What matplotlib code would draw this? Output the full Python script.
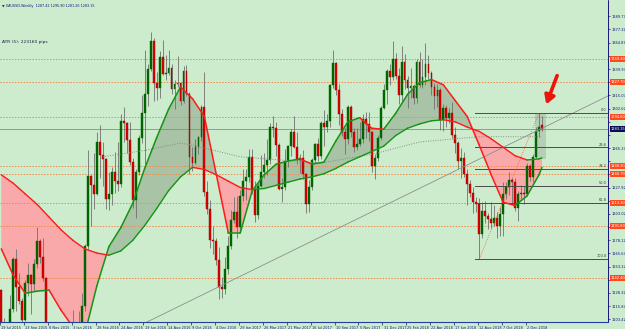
import numpy as np
import matplotlib
matplotlib.use("Agg")
import matplotlib.pyplot as plt
from matplotlib.collections import LineCollection
from matplotlib.patches import Rectangle
import matplotlib.transforms as mtrans

BG = "#cdeccd"
NAVY = "#16167a"
BULL = "#006400"; BEAR = "#e00000"; WICK = "#707070"
UPC = "#149414"; DNC = "#ff1a1a"
ORANGE = "#f08a4c"; TAG = "#ff4a1c"
FILL_UP = "#a9c3a6"; FILL_DN = "#f9a9a9"

# weekly candles, week 0 = 19 Jul 2015
opens = [1131, 1098, 1095, 1094, 1113, 1160, 1134, 1121, 1103, 1138,
         1145, 1137, 1156, 1177, 1162, 1142, 1088, 1081, 1076, 1056,
         1086, 1075, 1065, 1076, 1061, 1097, 1089, 1097, 1116, 1173,
         1239, 1230, 1222, 1271, 1259, 1255, 1217, 1222, 1243, 1234,
         1231, 1291, 1289, 1273, 1252, 1216, 1243, 1275, 1298, 1316,
         1340, 1366, 1327, 1322, 1351, 1335, 1336, 1341, 1321, 1326,
         1327, 1310, 1338, 1316, 1257, 1251, 1266, 1276, 1304, 1224,
         1208, 1178, 1177, 1159, 1134, 1132, 1151, 1173, 1197, 1205,
         1191, 1220, 1234, 1238, 1257, 1226, 1202, 1229, 1243, 1249,
         1254, 1285, 1284, 1268, 1227, 1228, 1253, 1267, 1280, 1266,
         1254, 1256, 1241, 1212, 1228, 1254, 1269, 1258, 1289, 1285,
         1291, 1325, 1346, 1320, 1297, 1280, 1274, 1304, 1280, 1266,
         1269, 1274, 1293, 1288, 1280, 1248, 1256, 1275, 1303, 1320,
         1338, 1332, 1349, 1333, 1315, 1347, 1330, 1322, 1324, 1313,
         1347, 1325, 1332, 1345, 1336, 1323, 1314, 1320, 1292, 1303,
         1294, 1298, 1278, 1270, 1253, 1256, 1241, 1231, 1223, 1214,
         1212, 1184, 1206, 1201, 1198, 1194, 1199, 1192, 1203, 1222,
         1228, 1235, 1233, 1209, 1222, 1223, 1222, 1248, 1238, 1257,
         1281, 1287.42]
highs = [1132, 1105, 1098, 1126, 1162, 1170, 1147, 1124, 1141, 1157,
         1146, 1160, 1191, 1179, 1180, 1143, 1098, 1088, 1081, 1088,
         1088, 1080, 1088, 1082, 1112, 1098, 1111, 1128, 1175, 1263,
         1240, 1261, 1280, 1287, 1271, 1256, 1243, 1247, 1262, 1271,
         1297, 1304, 1290, 1290, 1256, 1245, 1278, 1315, 1358, 1345,
         1375, 1369, 1337, 1357, 1367, 1353, 1358, 1345, 1330, 1352,
         1328, 1343, 1344, 1318, 1266, 1274, 1277, 1306, 1337, 1234,
         1216, 1192, 1180, 1172, 1143, 1162, 1182, 1207, 1219, 1220,
         1226, 1245, 1245, 1264, 1264, 1234, 1233, 1259, 1261, 1274,
         1289, 1296, 1290, 1270, 1237, 1264, 1268, 1283, 1296, 1280,
         1260, 1263, 1242, 1235, 1256, 1270, 1275, 1291, 1301, 1297,
         1326, 1358, 1347, 1326, 1302, 1284, 1306, 1306, 1284, 1284,
         1290, 1297, 1299, 1299, 1281, 1260, 1278, 1305, 1326, 1340,
         1345, 1366, 1355, 1341, 1362, 1354, 1333, 1341, 1326, 1349,
         1356, 1349, 1365, 1353, 1338, 1327, 1326, 1322, 1307, 1306,
         1303, 1309, 1285, 1272, 1265, 1262, 1245, 1235, 1228, 1219,
         1218, 1214, 1215, 1204, 1214, 1211, 1205, 1210, 1233, 1233,
         1243, 1237, 1237, 1225, 1230, 1229, 1251, 1250, 1260, 1285,
         1298, 1295.90]
lows = [1077, 1077, 1080, 1090, 1110, 1111, 1118, 1098, 1102, 1125,
        1108, 1130, 1152, 1157, 1140, 1085, 1077, 1064, 1052, 1046,
        1062, 1046, 1063, 1058, 1061, 1072, 1080, 1096, 1111, 1170,
        1192, 1208, 1221, 1237, 1229, 1208, 1207, 1211, 1223, 1225,
        1228, 1271, 1261, 1249, 1209, 1199, 1240, 1270, 1250, 1305,
        1338, 1310, 1311, 1313, 1334, 1330, 1334, 1316, 1302, 1323,
        1306, 1308, 1314, 1241, 1244, 1250, 1260, 1272, 1220, 1203,
        1171, 1165, 1155, 1123, 1124, 1127, 1146, 1170, 1194, 1180,
        1187, 1215, 1216, 1233, 1222, 1195, 1198, 1228, 1237, 1240,
        1250, 1276, 1258, 1226, 1214, 1226, 1247, 1258, 1265, 1250,
        1242, 1236, 1204, 1205, 1226, 1251, 1253, 1255, 1267, 1280,
        1285, 1322, 1315, 1287, 1277, 1260, 1269, 1276, 1262, 1263,
        1267, 1270, 1275, 1272, 1243, 1236, 1253, 1273, 1302, 1307,
        1325, 1330, 1331, 1307, 1310, 1321, 1303, 1313, 1307, 1308,
        1323, 1322, 1325, 1331, 1315, 1302, 1304, 1282, 1281, 1285,
        1289, 1275, 1261, 1245, 1237, 1238, 1211, 1219, 1204, 1205,
        1160, 1180, 1194, 1189, 1190, 1192, 1180, 1182, 1182, 1217,
        1221, 1211, 1206, 1196, 1217, 1212, 1221, 1234, 1233, 1256,
        1276, 1281.26]
closes = [1098, 1095, 1094, 1113, 1160, 1134, 1121, 1103, 1138, 1145,
          1137, 1156, 1177, 1162, 1142, 1088, 1081, 1076, 1056, 1086,
          1075, 1065, 1076, 1061, 1097, 1089, 1097, 1116, 1173, 1239,
          1230, 1222, 1271, 1259, 1255, 1217, 1222, 1243, 1234, 1231,
          1291, 1289, 1273, 1252, 1216, 1243, 1275, 1298, 1316, 1340,
          1366, 1327, 1322, 1351, 1335, 1336, 1341, 1321, 1326, 1327,
          1310, 1338, 1316, 1257, 1251, 1266, 1276, 1304, 1224, 1208,
          1178, 1177, 1159, 1134, 1132, 1151, 1173, 1197, 1205, 1191,
          1220, 1234, 1238, 1257, 1226, 1202, 1229, 1243, 1249, 1254,
          1285, 1284, 1268, 1227, 1228, 1253, 1267, 1280, 1266, 1254,
          1256, 1241, 1212, 1228, 1254, 1269, 1258, 1289, 1285, 1291,
          1325, 1346, 1320, 1297, 1280, 1274, 1304, 1280, 1266, 1269,
          1274, 1293, 1288, 1280, 1248, 1256, 1275, 1303, 1320, 1338,
          1332, 1349, 1333, 1315, 1347, 1330, 1322, 1324, 1313, 1347,
          1325, 1332, 1345, 1336, 1323, 1314, 1320, 1292, 1303, 1294,
          1298, 1278, 1270, 1253, 1256, 1241, 1231, 1223, 1214, 1212,
          1184, 1206, 1201, 1198, 1194, 1199, 1192, 1203, 1222, 1228,
          1235, 1233, 1209, 1222, 1223, 1222, 1248, 1238, 1257, 1281,
          1285, 1283.15]

# indicator lines, one value every 4 weeks (+ last bar)
ma_week = [0, 4, 8, 12, 16, 20, 24, 28, 32, 36, 40, 44, 48, 52, 56, 60, 64, 68,
           72, 76, 80, 84, 88, 92, 96, 100, 104, 108, 112, 116, 120, 124, 128,
           132, 136, 140, 144, 148, 152, 156, 160, 164, 168, 172, 176, 180, 181]
ma_fast = [1170, 1145, 1128, 1130, 1131, 1112, 1096, 1090, 1135, 1172, 1190, 1213,
           1246, 1275, 1302, 1323, 1312, 1295, 1240, 1185, 1185, 1225, 1240, 1250,
           1253, 1255, 1250, 1252, 1272, 1290, 1294, 1284, 1283, 1298, 1316, 1327,
           1330, 1325, 1310, 1295, 1268, 1240, 1214, 1211, 1220, 1240, 1247]
ma_slow = [1240, 1232, 1222, 1212, 1200, 1188, 1178, 1170, 1166, 1164, 1168, 1178,
           1192, 1208, 1225, 1238, 1247, 1245, 1240, 1234, 1228, 1226, 1227, 1230,
           1233, 1236, 1238, 1241, 1246, 1252, 1257, 1262, 1267, 1277, 1284, 1288,
           1291, 1292, 1290, 1285, 1281, 1274, 1266, 1258, 1254, 1255, 1256]
dot_week = [34, 48, 60, 64, 80, 107, 125, 140, 160, 181]
dot_ma = [1257, 1263, 1270, 1268, 1257, 1251, 1260, 1271, 1276, 1276]

hlines = [1349.4, 1327.7, 1294.6, 1248.3, 1240.7, 1213.3, 1191.6, 1142.4]
last_price = 1283.15
fib_low, fib_high = 1160.4, 1298.4
fib_start, fib_end = 160, 180
fib_levels = [0.0, 23.6, 38.2, 50.0, 61.8, 100.0]
trend_pts = ([48.1, 203.1], [1099.9, 1314.5])
arrow_tail = (186.4, 1336.2); arrow_head = (182.1, 1304.1)
box_weeks = (178.5, 182.5); box_prices = (1255.0, 1298.4)

date_labels = ["19 Jul 2015", "13 Sep 2015", "8 Nov 2015", "3 Jan 2016", "28 Feb 2016",
               "24 Apr 2016", "19 Jun 2016", "14 Aug 2016", "9 Oct 2016", "4 Dec 2016",
               "29 Jan 2017", "26 Mar 2017", "21 May 2017", "16 Jul 2017", "10 Sep 2017",
               "5 Nov 2017", "31 Dec 2017", "25 Feb 2018", "22 Apr 2018", "17 Jun 2018",
               "12 Aug 2018", "7 Oct 2018", "2 Dec 2018"]
price_ticks = [1103.42 + 12.45 * k for k in range(24)]

o = np.array(opens); h = np.array(highs); l = np.array(lows); c = np.array(closes)
x = np.arange(len(c))

fig = plt.figure(figsize=(6.25, 3.29), dpi=100, facecolor=BG)
ax = fig.add_axes([0, 7 / 329, 608 / 625, 322 / 329], facecolor=BG)
ax.set_xlim(0.43, 203.1)
ax.set_ylim(1100.85, 1405.2)

# fills between the two averages
mw = np.array(ma_week, float); fa = np.array(ma_fast, float); sl = np.array(ma_slow, float)
ax.fill_between(mw, fa, sl, where=fa >= sl, interpolate=True, color=FILL_UP, lw=0, zorder=1)
ax.fill_between(mw, fa, sl, where=fa < sl, interpolate=True, color=FILL_DN, lw=0, zorder=1)

# horizontal levels
for p in hlines:
    ax.axhline(p, color=ORANGE, lw=0.7, ls=(0, (1.5, 1.5)), zorder=1.5)
ax.axhline(last_price, color="#8c8c8c", lw=0.6, zorder=1.5)

# candles
up = c >= o
ax.vlines(x, l, h, color=WICK, lw=0.6, zorder=2)
ax.bar(x[up], (c - o)[up], bottom=o[up], width=0.62, color=BULL, edgecolor=BULL, lw=0.3, zorder=2.5)
ax.bar(x[~up], (c - o)[~up], bottom=o[~up], width=0.62, color=BEAR, edgecolor="#900000", lw=0.3, zorder=2.5)

# moving averages coloured by slope
def slope_line(xs, ys, lw):
    pts = np.column_stack([xs, ys])
    segs = np.stack([pts[:-1], pts[1:]], axis=1)
    cols = [UPC if b >= a else DNC for a, b in zip(ys[:-1], ys[1:])]
    ax.add_collection(LineCollection(segs, colors=cols, lw=lw, zorder=4, capstyle="round"))

slope_line(mw, fa, 1.1)
slope_line(mw, sl, 1.0)
ax.plot(dot_week, dot_ma, color="#8a8a8a", lw=0.7, ls=(0, (1, 1.5)), zorder=3)

# trend line
ax.plot(*trend_pts, color="#8e8e8e", lw=0.6, zorder=3)

# fibonacci
rng = fib_high - fib_low
for lv in fib_levels:
    p = fib_high - rng * lv / 100
    ax.plot([fib_start - 1.5, 203.1], [p, p], color="#4a4a4a", lw=0.7, zorder=3)
    ax.text(202.6, p + 0.8, f"{lv:.1f}", fontsize=2.5, color="#333333", ha="right", va="bottom", zorder=5)
ax.plot([fib_start, fib_end], [fib_low, fib_high], color="#ff5a3a", lw=0.6, ls=(0, (1, 1.5)), zorder=3)

# rectangle over the last bars
ax.add_patch(Rectangle((box_weeks[0], box_prices[0]), box_weeks[1] - box_weeks[0],
                       box_prices[1] - box_prices[0], color="#9aa89a", alpha=0.45, lw=0, zorder=1.2))

# red arrow
ax.annotate("", xy=arrow_head, xytext=arrow_tail,
            arrowprops=dict(arrowstyle="-|>,head_length=0.5,head_width=0.3", color="#e8160c", lw=2.6), zorder=6)

# axes styling
for s in ["top", "left"]:
    ax.spines[s].set_visible(False)
ax.spines["bottom"].set_color("#2040a0"); ax.spines["bottom"].set_linewidth(0.8)
ax.spines["right"].set_color(NAVY); ax.spines["right"].set_linewidth(0.7)
ax.spines["right"].set_linestyle((0, (1, 1)))
ax.yaxis.tick_right()
tagged = hlines + [last_price]
shown = [p for p in price_ticks if min(abs(p - q) for q in tagged) > 5.5]
ax.set_yticks(price_ticks)
ax.set_yticklabels([f"{p:.2f}" if p in shown else "" for p in price_ticks], fontsize=2.6, color=NAVY)
ax.tick_params(axis="y", length=1.5, width=0.5, color=NAVY, pad=1.0)
ax.set_xticks([-0.43 + 8 * k for k in range(len(date_labels))])
ax.set_xticklabels(date_labels, fontsize=2.5, color=NAVY, ha="left")
ax.tick_params(axis="x", length=2.5, width=0.5, color=NAVY, pad=0.3)
for t in ax.get_xticklabels():
    t.set_transform(t.get_transform() + mtrans.ScaledTranslation(1.2 / 100, 0, fig.dpi_scale_trans))

# price tags on the right axis
tag_tr = mtrans.blended_transform_factory(ax.transAxes, ax.transData)
for p in hlines:
    ax.text(1.004, p, f"{p:.2f}", transform=tag_tr, fontsize=2.6, color="white", va="center", ha="left",
            bbox=dict(boxstyle="square,pad=0.2", fc=TAG, ec="none"), zorder=7, clip_on=False)
ax.text(1.004, last_price, f"{last_price:.2f}", transform=tag_tr, fontsize=2.6, color="white", va="center",
        ha="left", bbox=dict(boxstyle="square,pad=0.2", fc="#0a0a5a", ec="none"), zorder=7, clip_on=False)

ax.text(0.004, 0.988, "\u25bc XAUUSD,Weekly  1287.42 1295.90 1281.26 1283.15", transform=ax.transAxes,
        fontsize=2.4, color=NAVY, va="top", ha="left")
ax.text(0.004, 0.87, "ATR (5): 223160 pips", transform=ax.transAxes, fontsize=3.2, color="#202040",
        va="center", ha="left")

fig.savefig("out.png", dpi=100, facecolor=BG)
